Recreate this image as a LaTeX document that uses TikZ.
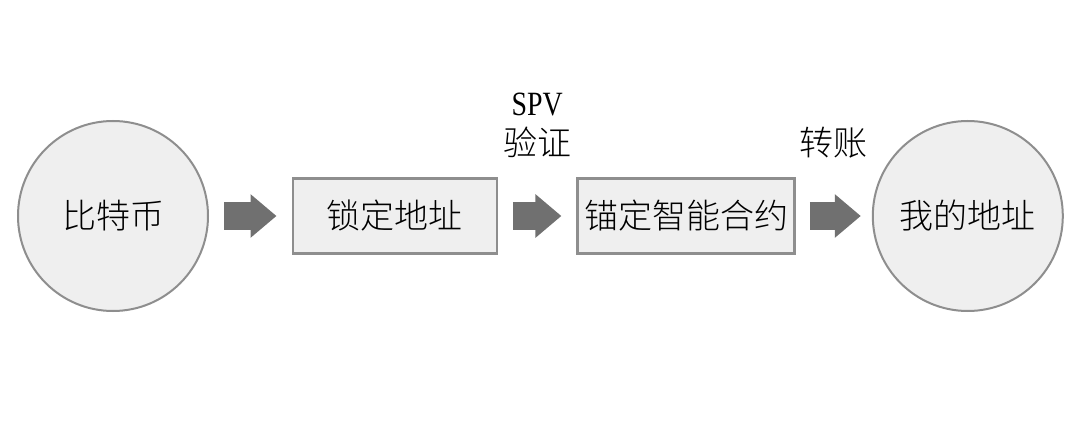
\documentclass[tikz,border=0pt]{standalone}
\usepackage{fontspec}
\setmainfont{Noto Sans CJK SC Light}
\newfontfamily\spvfont[FakeStretch=0.82]{Liberation Serif}
\usetikzlibrary{positioning, arrows.meta}

\definecolor{boxfill}{HTML}{EFEFEF}
\definecolor{boxline}{HTML}{8E8E8E}
\definecolor{arrowgray}{HTML}{707070}

\begin{document}
\begin{tikzpicture}[x=0.5pt, y=0.5pt, font=\fontsize{17}{20}\selectfont,
  coin/.style={draw=boxline, line width=1pt, fill=boxfill, circle, minimum size=95pt, inner sep=0pt},
  stage/.style={draw=boxline, line width=1.2pt, fill=boxfill, rectangle, minimum height=37.5pt, inner sep=2pt},
  flow/.style={-{Triangle[length=13pt, width=21pt]}, line width=14pt, draw=arrowgray, shorten <=7.5pt, shorten >=7.5pt},
  flowlabel/.style={above=22pt, align=center, inner sep=0pt}]
  \useasboundingbox (0,0) rectangle (1080,423);
  \node[coin] (btc) at (113,207) {比特币};
  \node[stage, minimum width=102pt, right=41.25pt of btc] (lockaddr) {锁定地址};
  \node[stage, minimum width=108.5pt, right=39.25pt of lockaddr] (anchor) {锚定智能合约};
  \node[coin, right=38pt of anchor] (myaddr) {我的地址};
  \draw[flow] (btc) -- (lockaddr);
  \draw[flow] (lockaddr) -- node[flowlabel] {{\spvfont SPV}\\验证} (anchor);
  \draw[flow, shorten <=7pt, shorten >=5.5pt] (anchor) -- node[flowlabel] {转账} (myaddr);
\end{tikzpicture}
\end{document}
